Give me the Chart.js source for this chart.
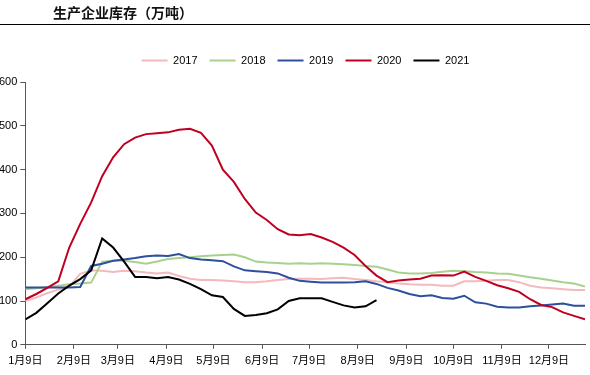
<!DOCTYPE html>
<html lang="zh">
<head>
  <meta charset="UTF-8" />
  <title>生产企业库存（万吨）</title>
  <script src="https://cdn.jsdelivr.net/npm/chart.js"></script>
  <style>
    body {
      margin: 0;
      background: #fff;
      width: 590px;
      height: 375px;
      overflow: hidden;
      position: relative;
      font-family: "Liberation Sans", "Noto Sans CJK SC", sans-serif;
    }

    .title {
      position: absolute;
      left: 0;
      top: 0;
      width: 590px;
      height: 24px;
      border-bottom: 1.5px solid #000;
      z-index: 2;
    }

    .title span {
      position: absolute;
      left: 53px;
      top: 3px;
      font-family: "Noto Sans CJK SC", sans-serif;
      font-size: 14px;
      font-weight: bold;
      line-height: 18px;
      color: #111;
    }

    .chart-box {
      position: absolute;
      left: -4px;
      top: 0;
      width: 596px;
      height: 375px;
    }
  </style>
</head>
<body>

  <div class="title"><span>生产企业库存（万吨）</span></div>

  <div class="chart-box">
    <canvas id="stockChart"></canvas>
  </div>

  <script>
    // weekly readings, week 0 = 1月9日
    const years = ['2017', '2018', '2019', '2020', '2021'];

    const stock2017 = [100, 108, 118, 126, 133, 162, 170, 169, 166, 169, 168, 165, 163, 165, 157, 151, 148, 148, 147, 145,
      143, 143, 145, 148, 150, 151, 151, 150, 152, 153, 150, 148, 145, 143, 140, 138, 137, 137, 135, 135,
      145, 145, 146, 148, 148, 143, 135, 131, 129, 127, 125, 125];
    const stock2018 = [127, 129, 132, 135, 138, 140, 142, 190, 192, 192, 189, 185, 190, 196, 198, 200, 202, 204, 205, 206,
      200, 190, 188, 187, 185, 186, 185, 186, 185, 184, 182, 180, 178, 172, 165, 163, 163, 164, 167, 169,
      168, 166, 165, 163, 162, 158, 154, 151, 147, 143, 140, 133];
    const stock2019 = [131, 131, 131, 131, 131, 132, 180, 185, 192, 195, 198, 202, 204, 203, 207, 198, 195, 193, 191, 179,
      170, 168, 166, 163, 153, 146, 144, 142, 142, 142, 143, 145, 139, 130, 124, 116, 111, 113, 107, 105,
      112, 97, 94, 87, 85, 85, 88, 90, 92, 94, 89, 89];
    const stock2020 = [104, 116, 130, 145, 222, 276, 325, 385, 428, 458, 473, 481, 483, 485, 491, 493, 484, 455, 400, 372,
      333, 302, 285, 264, 252, 250, 253, 245, 235, 222, 205, 180, 158, 143, 147, 149, 151, 158, 159, 158,
      167, 155, 146, 136, 129, 121, 104, 91, 86, 74, 66, 58];
    const stock2021 = [58, 73, 95, 117, 135, 150, 170, 243, 222, 190, 155, 155, 152, 155, 149, 139, 127, 113, 109, 82,
      66, 68, 72, 81, 100, 106, 106, 106, 98, 90, 85, 88, 102];

    // x tick positions in days after 1月9日
    const monthTickDays = [0, 31, 59, 90, 120, 151, 181, 212, 243, 273, 304, 334];
    const monthTickLabels = ['1月9日', '2月9日', '3月9日', '4月9日', '5月9日', '6月9日',
      '7月9日', '8月9日', '9月9日', '10月9日', '11月9日', '12月9日'];

    const lineColors = ['#f4b9bd', '#a9d18e', '#2e4f9c', '#c00020', '#000000'];
    const series = [stock2017, stock2018, stock2019, stock2020, stock2021];

    const toPoints = vals => vals.map((v, i) => ({ x: i * 7, y: v }));

    const datasets = years.map((y, i) => ({
      label: y,
      data: toPoints(series[i]),
      borderColor: lineColors[i],
      backgroundColor: lineColors[i],
      borderWidth: 2,
      pointRadius: 0,
      tension: 0,
      fill: false,
      order: years.length - i
    }));

    const axisColor = '#555';
    const tickFont = { family: '"Liberation Sans", "Noto Sans CJK SC", sans-serif', size: 11 };

    // more room under the legend, and legend nudged right like the original
    const legendTweak = {
      id: 'legendTweak',
      beforeInit(chart) {
        const fit = chart.legend.fit;
        chart.legend.fit = function () {
          fit.bind(chart.legend)();
          this.height += 6;
        };
      },
      afterLayout(chart) {
        chart.legend.left += 15;
        chart.legend.right += 15;
      }
    };

    new Chart(document.getElementById('stockChart'), {
      type: 'line',
      data: { datasets },
      plugins: [legendTweak],
      options: {
        responsive: true,
        maintainAspectRatio: false,
        animation: false,
        layout: { padding: { top: 43, right: 7, bottom: 1, left: 0 } },
        plugins: {
          legend: {
            position: 'top',
            labels: {
              boxWidth: 26,
              boxHeight: 2,
              padding: 12,
              color: '#000',
              font: tickFont,
              sort: (a, b) => a.datasetIndex - b.datasetIndex,
              generateLabels: chart => chart.data.datasets.map((ds, i) => ({
                text: ds.label,
                fillStyle: ds.borderColor,
                strokeStyle: ds.borderColor,
                lineWidth: 0,
                fontColor: '#000',
                hidden: false,
                datasetIndex: i
              }))
            }
          },
          tooltip: { enabled: false }
        },
        scales: {
          x: {
            type: 'linear',
            min: 0,
            max: 357,
            afterBuildTicks: scale => {
              scale.ticks = monthTickDays.map(d => ({ value: d }));
            },
            ticks: {
              autoSkip: false,
              maxRotation: 0,
              color: '#000',
              font: tickFont,
              padding: 6,
              callback: (value, index) => monthTickLabels[index]
            },
            grid: { drawOnChartArea: false, tickLength: 4, color: axisColor },
            border: { color: axisColor, width: 1 }
          },
          y: {
            min: 0,
            max: 600,
            ticks: {
              stepSize: 100,
              color: '#000',
              font: tickFont,
              padding: 3
            },
            grid: { drawOnChartArea: false, tickLength: 5, color: axisColor },
            border: { color: axisColor, width: 1 }
          }
        }
      }
    });
  </script>

</body>
</html>
